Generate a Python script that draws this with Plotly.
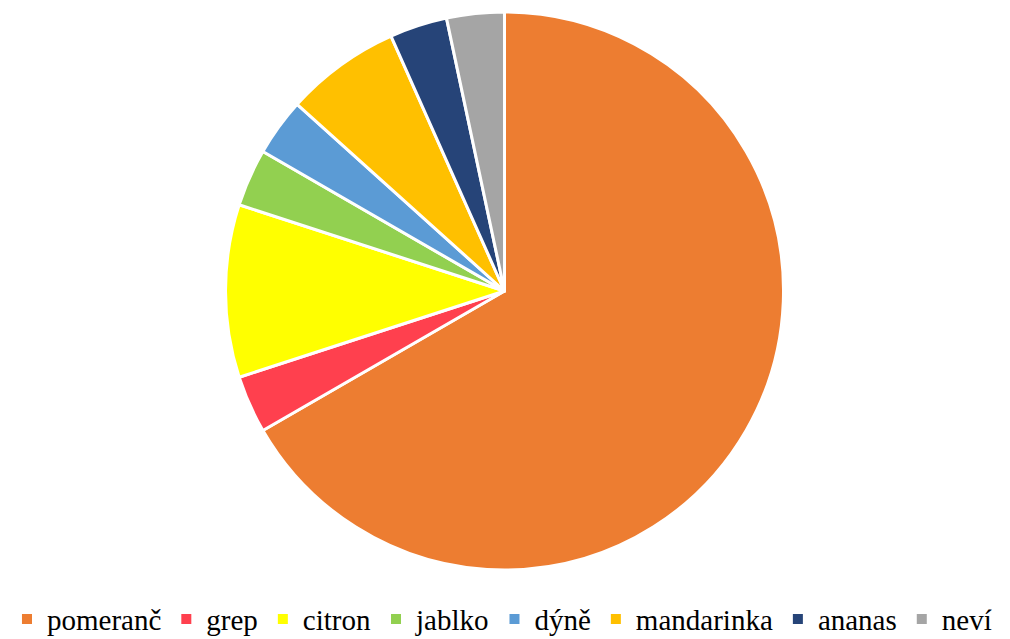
import plotly.graph_objects as go

# Answers and counts
labels = ["pomeranč", "grep", "citron", "jablko", "dýně", "mandarinka", "ananas", "neví"]
counts = [20, 1, 3, 1, 1, 2, 1, 1]
colors = ["#ED7D31", "#FF404E", "#FFFF00", "#92D050", "#5B9BD5", "#FFC000", "#264478", "#A5A5A5"]

W, H = 1010, 639
SERIF = "Liberation Serif, Times New Roman, DejaVu Serif, serif"

fig = go.Figure(
    go.Pie(
        labels=labels,
        values=counts,
        sort=False,
        direction="clockwise",
        rotation=0,
        textinfo="none",
        hoverinfo="label+value+percent",
        marker=dict(colors=colors, line=dict(color="#FFFFFF", width=3)),
        domain=dict(x=[225.5 / W, 783.5 / W], y=[(H - 570) / H, (H - 12) / H]),
    )
)

fig.update_layout(
    width=W,
    height=H,
    margin=dict(l=0, r=0, t=0, b=0, autoexpand=False),
    paper_bgcolor="#FFFFFF",
    plot_bgcolor="#FFFFFF",
    font=dict(family=SERIF, size=29, color="#000000"),
    legend=dict(
        orientation="h",
        x=0.497,
        xanchor="center",
        y=-0.009,
        yanchor="bottom",
        font=dict(family=SERIF, size=29, color="#000000"),
        itemsizing="constant",
    ),
)

fig.write_html("out.html")
